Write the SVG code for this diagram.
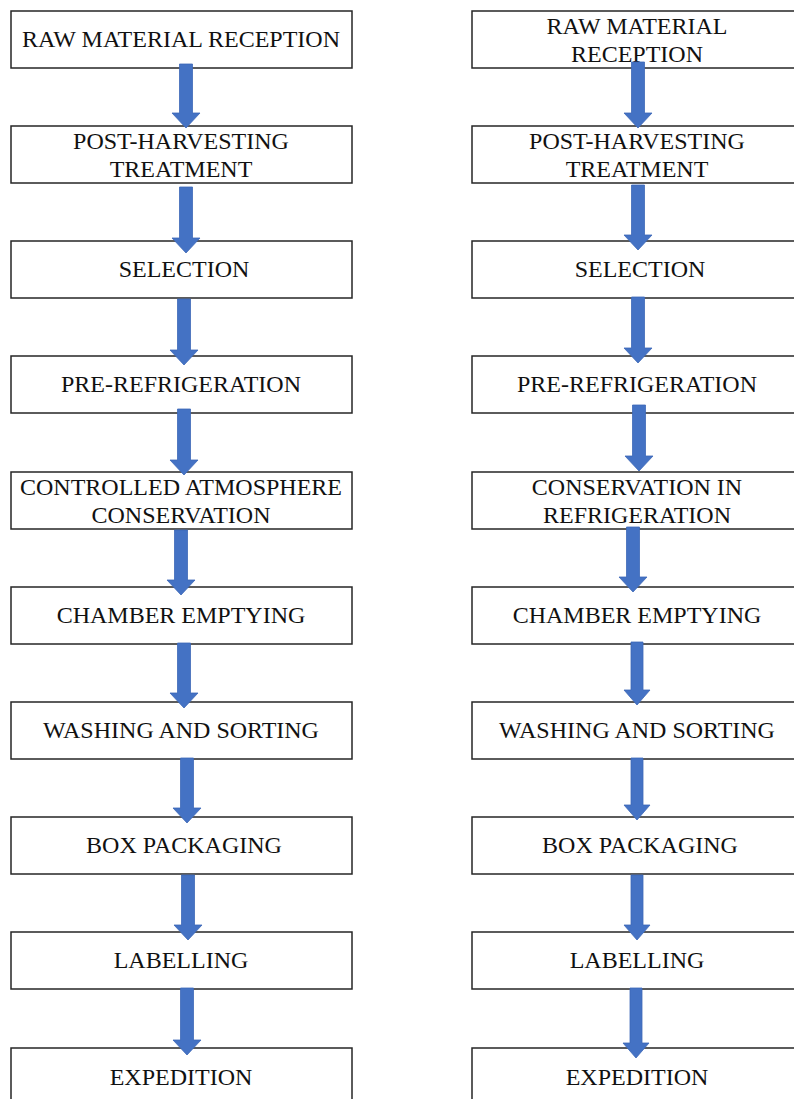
<svg xmlns="http://www.w3.org/2000/svg" width="794" height="1099" viewBox="0 0 794 1099">
<style>
.box{fill:#fff;stroke:#262626;stroke-width:1.5}
.t{font-family:"Liberation Serif","Times New Roman",serif;font-size:24px;fill:#111;text-anchor:middle}
.arr{fill:#4472C4;stroke:#3d68b8;stroke-width:0.8}
</style>
<rect width="794" height="1099" fill="#fff"/>
<g id="left">
<g id="L1"><rect class="box" x="11" y="11" width="341" height="57"/><text class="t" x="181" y="47">RAW MATERIAL RECEPTION</text></g>
<g id="L2"><rect class="box" x="11" y="126" width="341" height="57"/><text class="t" x="181" y="149">POST-HARVESTING</text><text class="t" x="181" y="177">TREATMENT</text></g>
<g id="L3"><rect class="box" x="11" y="241" width="341" height="57"/><text class="t" x="184" y="277">SELECTION</text></g>
<g id="L4"><rect class="box" x="11" y="356" width="341" height="57"/><text class="t" x="181" y="392">PRE-REFRIGERATION</text></g>
<g id="L5"><rect class="box" x="11" y="472" width="341" height="57"/><text class="t" x="181" y="495">CONTROLLED ATMOSPHERE</text><text class="t" x="181" y="523">CONSERVATION</text></g>
<g id="L6"><rect class="box" x="11" y="587" width="341" height="57"/><text class="t" x="181" y="623">CHAMBER EMPTYING</text></g>
<g id="L7"><rect class="box" x="11" y="702" width="341" height="57"/><text class="t" x="181" y="738">WASHING AND SORTING</text></g>
<g id="L8"><rect class="box" x="11" y="817" width="341" height="57"/><text class="t" x="184" y="853">BOX PACKAGING</text></g>
<g id="L9"><rect class="box" x="11" y="932" width="341" height="57"/><text class="t" x="181" y="968">LABELLING</text></g>
<g id="L10"><rect class="box" x="11" y="1048" width="341" height="60"/><text class="t" x="181" y="1085">EXPEDITION</text></g>
</g>
<g id="right">
<g id="R1"><rect class="box" x="472" y="11" width="331" height="57"/><text class="t" x="637" y="34">RAW MATERIAL</text><text class="t" x="637" y="62">RECEPTION</text></g>
<g id="R2"><rect class="box" x="472" y="126" width="331" height="57"/><text class="t" x="637" y="149">POST-HARVESTING</text><text class="t" x="637" y="177">TREATMENT</text></g>
<g id="R3"><rect class="box" x="472" y="241" width="331" height="57"/><text class="t" x="640" y="277">SELECTION</text></g>
<g id="R4"><rect class="box" x="472" y="356" width="331" height="57"/><text class="t" x="637" y="392">PRE-REFRIGERATION</text></g>
<g id="R5"><rect class="box" x="472" y="472" width="331" height="57"/><text class="t" x="637" y="495">CONSERVATION IN</text><text class="t" x="637" y="523">REFRIGERATION</text></g>
<g id="R6"><rect class="box" x="472" y="587" width="331" height="57"/><text class="t" x="637" y="623">CHAMBER EMPTYING</text></g>
<g id="R7"><rect class="box" x="472" y="702" width="331" height="57"/><text class="t" x="637" y="738">WASHING AND SORTING</text></g>
<g id="R8"><rect class="box" x="472" y="817" width="331" height="57"/><text class="t" x="640" y="853">BOX PACKAGING</text></g>
<g id="R9"><rect class="box" x="472" y="932" width="331" height="57"/><text class="t" x="637" y="968">LABELLING</text></g>
<g id="R10"><rect class="box" x="472" y="1048" width="331" height="60"/><text class="t" x="637" y="1085">EXPEDITION</text></g>
</g>
<g id="connectors">
<polygon class="arr" points="179.5,64 192.5,64 192.5,113 200,113 186,128 172,113 179.5,113"/>
<polygon class="arr" points="179.5,187 192.5,187 192.5,238 200,238 186,253 172,238 179.5,238"/>
<polygon class="arr" points="177.5,299 190.5,299 190.5,350 198,350 184,365 170,350 177.5,350"/>
<polygon class="arr" points="177.5,409 190.5,409 190.5,460 198,460 184,475 170,460 177.5,460"/>
<polygon class="arr" points="174.5,530 187.5,530 187.5,580 195,580 181,595 167,580 174.5,580"/>
<polygon class="arr" points="177.5,643 190.5,643 190.5,693 198,693 184,708 170,693 177.5,693"/>
<polygon class="arr" points="180.5,758 193.5,758 193.5,808 201,808 187,823 173,808 180.5,808"/>
<polygon class="arr" points="181.5,875 194.5,875 194.5,925 202,925 188,940 174,925 181.5,925"/>
<polygon class="arr" points="180.5,988 193.5,988 193.5,1040 201,1040 187,1055 173,1040 180.5,1040"/>
<polygon class="arr" points="631.5,62 644.5,62 644.5,113 652,113 638,128 624,113 631.5,113"/>
<polygon class="arr" points="631.5,185 644.5,185 644.5,235 652,235 638,250 624,235 631.5,235"/>
<polygon class="arr" points="631.5,297 644.5,297 644.5,348 652,348 638,363 624,348 631.5,348"/>
<polygon class="arr" points="632.5,405 645.5,405 645.5,456 653,456 639,471 625,456 632.5,456"/>
<polygon class="arr" points="626.5,527 639.5,527 639.5,577 647,577 633,592 619,577 626.5,577"/>
<polygon class="arr" points="631,642 643,642 643,690 650,690 637,705 624,690 631,690"/>
<polygon class="arr" points="631,758 643,758 643,805 650,805 637,820 624,805 631,805"/>
<polygon class="arr" points="631,875 643,875 643,925 650,925 637,940 624,925 631,925"/>
<polygon class="arr" points="630,988 642,988 642,1043 649,1043 636,1058 623,1043 630,1043"/>
</g>
</svg>
